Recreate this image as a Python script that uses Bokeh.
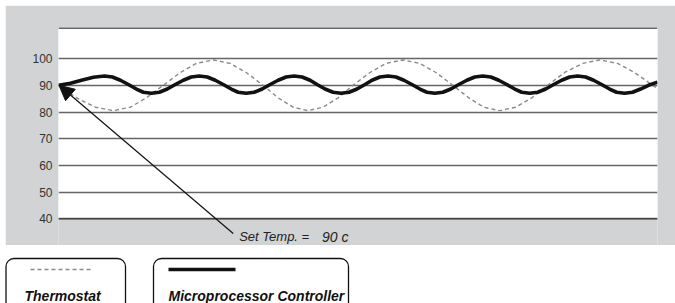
from bokeh.plotting import figure
from bokeh.layouts import column, row
from bokeh.models import Range1d, FixedTicker, Span, Arrow, NormalHead, Label, Spacer
from bokeh.embed import file_html
from bokeh.resources import INLINE

# ---------------- data ----------------
y_ticks = [40, 50, 60, 70, 80, 90, 100]
set_temp = 90
series_names = ["Thermostat", "Microprocessor Controller"]

controller_t = [0, 12, 23, 35, 46,
                54, 62, 70, 78, 85, 93,
                101, 109, 117, 125, 133, 141,
                149, 157, 165, 173, 180, 188,
                196, 204, 212, 220, 228, 236,
                244, 252, 259, 267, 275, 283,
                291, 299, 307, 314, 322, 330,
                338, 346, 354, 362, 369, 377,
                385, 393, 401, 409, 417, 425,
                433, 441, 449, 457, 464, 472,
                480, 488, 496, 504, 512, 520,
                528, 536, 544, 552, 559, 567,
                575, 583, 591, 600]
controller_temp = [90.0, 90.8, 91.9, 93.0, 93.5,
                   93.1, 91.9, 90.3, 88.6, 87.4, 87.0,
                   87.4, 88.6, 90.3, 91.9, 93.1, 93.5,
                   93.1, 91.9, 90.3, 88.6, 87.4, 87.0,
                   87.4, 88.6, 90.3, 91.9, 93.1, 93.5,
                   93.1, 91.9, 90.3, 88.6, 87.4, 87.0,
                   87.4, 88.6, 90.3, 91.9, 93.1, 93.5,
                   93.1, 91.9, 90.3, 88.6, 87.4, 87.0,
                   87.4, 88.6, 90.3, 91.9, 93.1, 93.5,
                   93.1, 91.9, 90.3, 88.6, 87.4, 87.0,
                   87.4, 88.6, 90.3, 91.9, 93.1, 93.5,
                   93.1, 91.9, 90.3, 88.6, 87.4, 87.0,
                   87.4, 88.6, 90.0, 91.2]

thermostat_t = [0, 18, 37, 55, 72, 88, 105, 122, 138, 155, 172, 188, 205,
                220, 235, 250, 265, 280, 295, 312, 328, 345, 362, 378, 395,
                411, 426, 442, 458, 474, 490, 507, 525, 542, 560, 577, 595, 600]
thermostat_temp = [90.0, 85.3, 81.8, 80.5, 81.8, 85.3, 90.0, 94.8, 98.2, 99.5, 98.2, 94.8, 90.0,
                   85.3, 81.8, 80.5, 81.8, 85.3, 90.0, 94.8, 98.2, 99.5, 98.2, 94.8, 90.0,
                   85.3, 81.8, 80.5, 81.8, 85.3, 90.0, 94.8, 98.2, 99.5, 98.2, 94.8, 90.0, 88.9]

GRAY = "#d1d3d4"
DARK = "#111111"

# ---------------- main chart ----------------
p = figure(width=670, height=240, output_backend="svg", toolbar_location=None,
           x_range=Range1d(0, 600), y_range=Range1d(30.0, 111.65),
           x_axis_location=None, y_axis_location="left",
           min_border_left=53, min_border_right=18, min_border_top=22, min_border_bottom=0)
p.border_fill_color = GRAY
p.background_fill_color = GRAY
p.outline_line_color = None
p.xgrid.visible = False

p.yaxis.ticker = FixedTicker(ticks=y_ticks)
p.yaxis.axis_line_color = None
p.yaxis.major_tick_line_color = None
p.yaxis.minor_tick_line_color = None
p.yaxis.major_tick_out = 0
p.yaxis.major_tick_in = 0
p.yaxis.major_label_standoff = 6
p.yaxis.major_label_text_font = "Liberation Sans"
p.yaxis.major_label_text_font_size = "12px"
p.yaxis.major_label_text_color = "#333333"

p.ygrid.grid_line_color = "#666666"
p.ygrid.grid_line_width = 1.4

# white plotting area above the lowest grid line (drawn beneath the grid)
p.quad(left=[-2], right=[602], bottom=[y_ticks[0]], top=[112], fill_color="white",
       line_color=None, level="image")
p.add_layout(Span(location=y_ticks[0], dimension="width", line_color="#444444", line_width=1.5))
p.add_layout(Span(location=111.5, dimension="width", line_color="#333333", line_width=1.5))

p.line(thermostat_t, thermostat_temp, line_color="#8a8a8a", line_width=1.4, line_dash="4 3")
p.line(controller_t, controller_temp, line_color=DARK, line_width=3.6, line_join="round")

p.add_layout(Arrow(end=NormalHead(size=15, fill_color=DARK, line_color=DARK, line_width=1),
                   x_start=175, y_start=34.5, x_end=0.5, y_end=set_temp,
                   line_color=DARK, line_width=1.2))
p.add_layout(Label(x=181, y=33.2, text="Set Temp. =", text_font="Liberation Sans",
                   text_font_style="italic", text_font_size="13px", text_color="#222222",
                   text_baseline="alphabetic"))
p.add_layout(Label(x=264, y=33.2, text=f"{set_temp} c", text_font="Liberation Sans",
                   text_font_style="italic", text_font_size="14px", text_color="#222222",
                   text_baseline="alphabetic"))

top_root = column(Spacer(width=675, height=5), row(Spacer(width=5, height=240), p))

# ---------------- legend strip ----------------
lg = figure(width=675, height=58, output_backend="svg", toolbar_location=None,
            x_range=Range1d(0, 675), y_range=Range1d(0, 58),
            x_axis_location=None, y_axis_location=None, min_border=0)
lg.grid.visible = False
lg.outline_line_color = None
lg.background_fill_color = "white"
lg.border_fill_color = "white"

lg.quad(left=[5.5, 153], right=[125, 348], bottom=[-12, -12], top=[45, 45],
        fill_color="white", line_color=DARK, line_width=1.3, border_radius=8)
lg.line([30, 93], [34, 34], line_color="#8a8a8a", line_width=1.3, line_dash="4 3")
lg.line([168, 235], [34, 34], line_color=DARK, line_width=3.6)
lg.add_layout(Label(x=24, y=8, text=series_names[0], text_font="Liberation Sans",
                    text_font_style="bold italic", text_font_size="14px", text_color=DARK,
                    text_baseline="alphabetic"))
lg.add_layout(Label(x=168, y=8, text=series_names[1], text_font="Liberation Sans",
                    text_font_style="bold italic", text_font_size="14px", text_color=DARK,
                    text_baseline="alphabetic"))

open("out.html", "w").write(file_html([top_root, lg], INLINE))
